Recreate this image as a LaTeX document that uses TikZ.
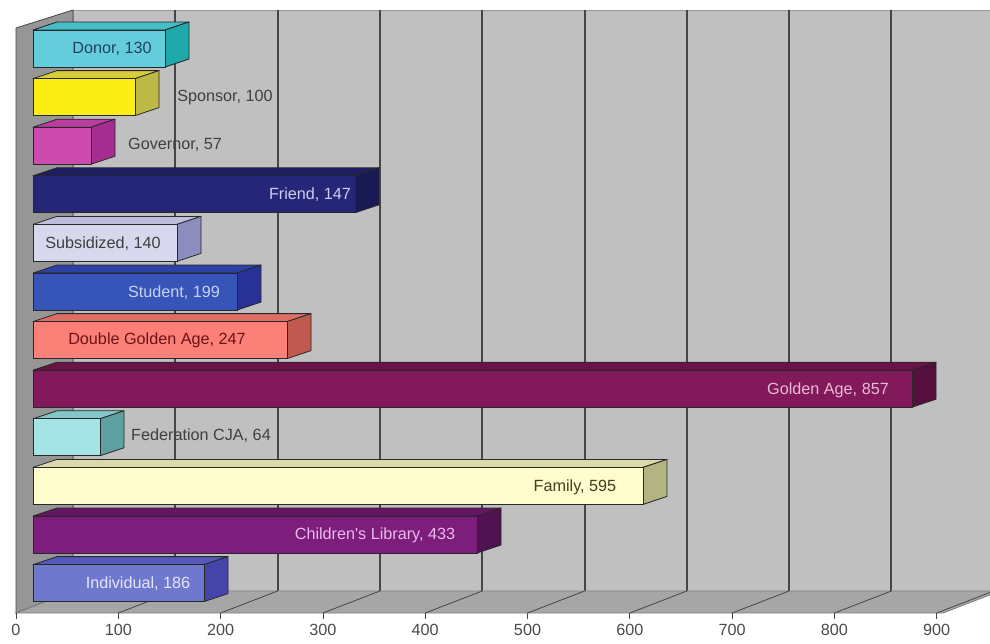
\documentclass[tikz,border=0pt]{standalone}
\usepackage{fontspec}
\setmainfont{Liberation Sans}
\usetikzlibrary{positioning}

\definecolor{wallback}{RGB}{192,192,192}
\definecolor{wallside}{RGB}{150,150,150}
\definecolor{floorgray}{RGB}{166,166,166}
\definecolor{gridgray}{RGB}{70,70,70}
\definecolor{barline}{RGB}{40,40,40}
\definecolor{ticktext}{RGB}{75,75,75}

\definecolor{donorF}{RGB}{100,205,220}\definecolor{donorT}{RGB}{70,190,200}\definecolor{donorS}{RGB}{30,170,170}
\definecolor{sponsorF}{RGB}{250,238,20}\definecolor{sponsorT}{RGB}{215,205,60}\definecolor{sponsorS}{RGB}{190,185,70}
\definecolor{governorF}{RGB}{205,75,175}\definecolor{governorT}{RGB}{185,60,160}\definecolor{governorS}{RGB}{165,45,145}
\definecolor{friendF}{RGB}{38,38,120}\definecolor{friendT}{RGB}{30,30,100}\definecolor{friendS}{RGB}{25,25,85}
\definecolor{subsidF}{RGB}{215,215,238}\definecolor{subsidT}{RGB}{190,190,220}\definecolor{subsidS}{RGB}{140,140,190}
\definecolor{studentF}{RGB}{55,85,185}\definecolor{studentT}{RGB}{45,65,165}\definecolor{studentS}{RGB}{40,50,150}
\definecolor{dgaF}{RGB}{250,128,120}\definecolor{dgaT}{RGB}{220,110,100}\definecolor{dgaS}{RGB}{190,90,80}
\definecolor{goldenF}{RGB}{130,25,90}\definecolor{goldenT}{RGB}{105,20,72}\definecolor{goldenS}{RGB}{85,15,60}
\definecolor{fedF}{RGB}{165,228,228}\definecolor{fedT}{RGB}{130,200,200}\definecolor{fedS}{RGB}{95,160,160}
\definecolor{familyF}{RGB}{255,252,205}\definecolor{familyT}{RGB}{220,218,170}\definecolor{familyS}{RGB}{180,180,130}
\definecolor{childF}{RGB}{125,30,125}\definecolor{childT}{RGB}{100,22,100}\definecolor{childS}{RGB}{80,18,80}
\definecolor{indivF}{RGB}{110,120,205}\definecolor{indivT}{RGB}{85,90,185}\definecolor{indivS}{RGB}{70,70,170}

% one 3d bar: top y, length, top colour, side colour, front colour
\newcommand{\membox}[5]{%
  \filldraw[fill=#3,draw=barline,line join=round] (33,#1) -- ++(24,-8) -- ++(#2,0) -- ++(-24,8) -- cycle;
  \filldraw[fill=#4,draw=barline,line join=round] (33+#2,#1) -- ++(24,-8) -- ++(0,37) -- ++(-24,8) -- cycle;
  \filldraw[fill=#5,draw=barline] (33,#1) rectangle ++(#2,37);
}

\begin{document}
\begin{tikzpicture}[x=0.5pt,y=-0.5pt,
  lbl/.style={font=\fontsize{8.1}{9.6}\selectfont,inner sep=0pt},
  ticklbl/.style={font=\fontsize{8.1}{9.6}\selectfont,text=ticktext,inner sep=0pt}]
\useasboundingbox (0,0) rectangle (990,643);
\clip (0,0) rectangle (990,643);

% walls and floor
\filldraw[fill=wallback,draw=gray!80] (73,10) rectangle (1000,591);
\foreach \k in {1,...,9}
  \draw[gridgray,line width=1pt] (73+102.3*\k,10) -- (73+102.3*\k,591);
\filldraw[fill=wallside,draw=gridgray] (16,28) -- (73,10) -- (73,591) -- (16,613) -- cycle;
\filldraw[fill=floorgray,draw=gray] (16,613) -- (73,591) -- (1000,591) -- (943,613) -- cycle;
\foreach \k in {1,...,9} {
  \draw[gridgray,thin] (16+102.3*\k,613) -- (73+102.3*\k,591);
  \draw[gridgray,thin] (16+102.3*\k,613) -- (16+102.3*\k,619);
}
\draw[gridgray,thin] (16,613) -- (16,619);

% tick labels
\foreach \k in {0,...,9}
  \node[ticklbl] (tick\k) at (16+102.3*\k,630) {\pgfmathparse{int(100*\k)}\pgfmathresult};

% bars
\membox{30}{132}{donorT}{donorS}{donorF}
\membox{78.6}{102}{sponsorT}{sponsorS}{sponsorF}
\membox{127.2}{58}{governorT}{governorS}{governorF}
\membox{175.8}{322}{friendT}{friendS}{friendF}
\membox{224.4}{144}{subsidT}{subsidS}{subsidF}
\membox{273}{204}{studentT}{studentS}{studentF}
\membox{321.6}{254}{dgaT}{dgaS}{dgaF}
\membox{370.2}{879}{goldenT}{goldenS}{goldenF}
\membox{418.8}{67}{fedT}{fedS}{fedF}
\membox{467.4}{610}{familyT}{familyS}{familyF}
\membox{516}{444}{childT}{childS}{childF}
\membox{564.6}{171}{indivT}{indivS}{indivF}

% labels
\node[lbl,text={rgb,255:red,35;green,65;blue,95}] (donor) at (112,49) {Donor, 130};
\node[lbl,text=black!75] (sponsor) at (225,98) {Sponsor, 100};
\node[lbl,text=black!75] (governor) at (175,145) {Governor, 57};
\node[lbl,text={rgb,255:red,205;green,205;blue,240}] (friend) at (310,195) {Friend, 147};
\node[lbl,text=black!75] (subsid) at (103,244) {Subsidized, 140};
\node[lbl,text={rgb,255:red,200;green,210;blue,240}] (student) at (174,293) {Student, 199};
\node[lbl,text={rgb,255:red,110;green,20;blue,20}] (dga) at (157,340) {Double Golden Age, 247};
\node[lbl,text={rgb,255:red,235;green,185;blue,215}] (golden) at (828,390) {Golden Age, 857};
\node[lbl,text=black!75] (fed) at (201,436) {Federation CJA, 64};
\node[lbl,text={rgb,255:red,70;green,60;blue,30}] (family) at (575,487) {Family, 595};
\node[lbl,text={rgb,255:red,235;green,185;blue,235}] (child) at (375,535) {Children\textquotesingle s Library, 433};
\node[lbl,text={rgb,255:red,230;green,230;blue,250}] (indiv) at (138,584) {Individual, 186};
\end{tikzpicture}
\end{document}
